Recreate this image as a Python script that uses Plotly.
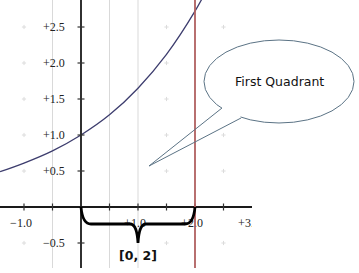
import plotly.graph_objects as go

# ---- data ----
curve_x = [-1.42, -1.0, -0.5, 0.0, 0.5, 1.0, 1.5, 2.0, 2.3]
curve_y = [0.49, 0.61, 0.78, 1.0, 1.28, 1.65, 2.12, 2.72, 3.16]

vline_x = 2.0
interval = [0, 2]
interval_label = "[0, 2]"
callout_text = "First Quadrant"

x_tick_pos = [-1.0, -0.5, 0.5, 1.0, 1.5, 2.0, 2.5]
x_label_pos = [-1.0, 1.0, 2.0, 3.0]
x_labels = ["\u22121.0", "+1.0", "+2.0", "+3.0"]
y_tick_pos = [-0.5, 0.5, 1.0, 1.5, 2.0, 2.5]
y_labels = ["\u22120.5", "+0.5", "+1.0", "+1.5", "+2.0", "+2.5"]
grid_lines_x = [-0.5, 0.5, 1.0]
grid_dots_x = [-1.0, 1.5, 2.5]
grid_dots_y = [-0.5, 0.5, 1.0, 1.5, 2.0, 2.5]

# ---- geometry ----
W, H = 359, 273
PX_X = 57.0   # pixels per x unit
PX_Y = 72.0   # pixels per y unit
XR = [-81 / PX_X, 171 / PX_X]
YR = [-61 / PX_Y, 207 / PX_Y]

fig = go.Figure()

# grid dots
dx, dy = [], []
for gx in grid_dots_x:
    for gy in grid_dots_y:
        dx.append(gx)
        dy.append(gy)
fig.add_trace(go.Scatter(x=dx, y=dy, mode="markers",
                         marker=dict(symbol="cross-thin", size=3,
                                     line=dict(color="#dcdcdc", width=1)),
                         hoverinfo="skip", showlegend=False))

# curve
fig.add_trace(go.Scatter(x=curve_x, y=curve_y, mode="lines",
                         line=dict(color="#3d3d6e", width=1.3, shape="spline"),
                         hoverinfo="skip", showlegend=False))

# x tick labels (clipped at plot edge)
fig.add_trace(go.Scatter(x=[v - 3 / PX_X for v in x_label_pos],
                         y=[-17 / PX_Y] * len(x_label_pos),
                         mode="text", text=x_labels, textposition="middle center",
                         textfont=dict(family="Liberation Serif", size=12, color="#222"),
                         cliponaxis=True, hoverinfo="skip", showlegend=False))

shapes = []
# vertical grid lines
for gx in grid_lines_x:
    shapes.append(dict(type="line", xref="x", yref="y", x0=gx, x1=gx,
                       y0=YR[0], y1=YR[1], line=dict(color="#d9d9d9", width=1),
                       layer="below"))
# axes
shapes.append(dict(type="line", xref="x", yref="y", x0=XR[0], x1=XR[1], y0=0, y1=0,
                   line=dict(color="#1a1a1a", width=1.8)))
shapes.append(dict(type="line", xref="x", yref="y", x0=0, x1=0, y0=YR[0], y1=YR[1],
                   line=dict(color="#1a1a1a", width=1.8)))
# ticks
tx = 3.5 / PX_X
ty = 3.5 / PX_Y
for t in x_tick_pos:
    shapes.append(dict(type="line", xref="x", yref="y", x0=t, x1=t, y0=-ty, y1=ty,
                       line=dict(color="#333", width=1.2)))
for t in y_tick_pos:
    shapes.append(dict(type="line", xref="x", yref="y", x0=-tx, x1=tx, y0=t, y1=t,
                       line=dict(color="#333", width=1.2)))
# red vertical line
shapes.append(dict(type="line", xref="x", yref="y", x0=vline_x, x1=vline_x,
                   y0=YR[0], y1=YR[1], line=dict(color="#b06060", width=1.8)))

# brace under the interval
a, b = interval
mid = (a + b) / 2
by = -17 / PX_Y
tip_y = -36 / PX_Y
cw = 10 / PX_X
dw = 5 / PX_X
brace = (f"M {a},0 Q {a + 0.15 * cw},{by} {a + cw},{by} "
         f"L {mid - dw * 1.6},{by} Q {mid - dw * 0.2},{by} {mid},{tip_y} "
         f"Q {mid + dw * 0.2},{by} {mid + dw * 1.6},{by} "
         f"L {b - cw},{by} Q {b - 0.15 * cw},{by} {b},0")
shapes.append(dict(type="path", xref="x", yref="y", path=brace,
                   line=dict(color="black", width=2.8)))


# callout (paper coordinates from pixel positions)
def px(xp):
    return xp / W


def py(yp):
    return 1 - yp / H


stroke = "#5b7385"
shapes.append(dict(type="circle", xref="paper", yref="paper",
                   x0=px(204), x1=px(354), y0=py(123), y1=py(40),
                   fillcolor="white", line=dict(color=stroke, width=1)))
A = (222, 108)
T = (149, 166)
B = (241, 118)
f = 0.12
A2 = (A[0] + f * (T[0] - A[0]), A[1] + f * (T[1] - A[1]))
B2 = (B[0] + f * (T[0] - B[0]), B[1] + f * (T[1] - B[1]))
cover = (f"M {px(A[0])},{py(A[1])} L {px(A2[0])},{py(A2[1])} L {px(B2[0])},{py(B2[1])} "
         f"L {px(B[0])},{py(B[1])} L {px(235)},{py(100)} Z")
shapes.append(dict(type="path", xref="paper", yref="paper", path=cover,
                   fillcolor="white", line=dict(width=0)))
tail = (f"M {px(A[0])},{py(A[1])} L {px(T[0])},{py(T[1])} L {px(B[0])},{py(B[1])}")
shapes.append(dict(type="path", xref="paper", yref="paper", path=tail,
                   line=dict(color=stroke, width=1)))

annotations = []
for t, lab in zip(y_tick_pos, y_labels):
    annotations.append(dict(x=-14 / PX_X, y=t, xref="x", yref="y", text=lab,
                            showarrow=False, xanchor="right", yanchor="middle",
                            font=dict(family="Liberation Serif", size=12, color="#222")))
annotations.append(dict(x=mid, y=-48 / PX_Y, xref="x", yref="y", text=f"<b>{interval_label}</b>",
                        showarrow=False, xanchor="center", yanchor="middle",
                        font=dict(family="DejaVu Sans", size=12.5, color="#111")))
annotations.append(dict(x=px(279), y=py(81), xref="paper", yref="paper", text=callout_text,
                        showarrow=False, xanchor="center", yanchor="middle",
                        font=dict(family="DejaVu Sans", size=12.5, color="#111")))

fig.update_layout(
    width=W, height=H, margin=dict(l=0, r=0, t=0, b=0),
    paper_bgcolor="white", plot_bgcolor="white",
    xaxis=dict(range=XR, domain=[0, 252 / W], visible=False, fixedrange=True),
    yaxis=dict(range=YR, domain=[5 / H, 1], visible=False, fixedrange=True),
    shapes=shapes, annotations=annotations, showlegend=False,
)

fig.write_html("out.html")
